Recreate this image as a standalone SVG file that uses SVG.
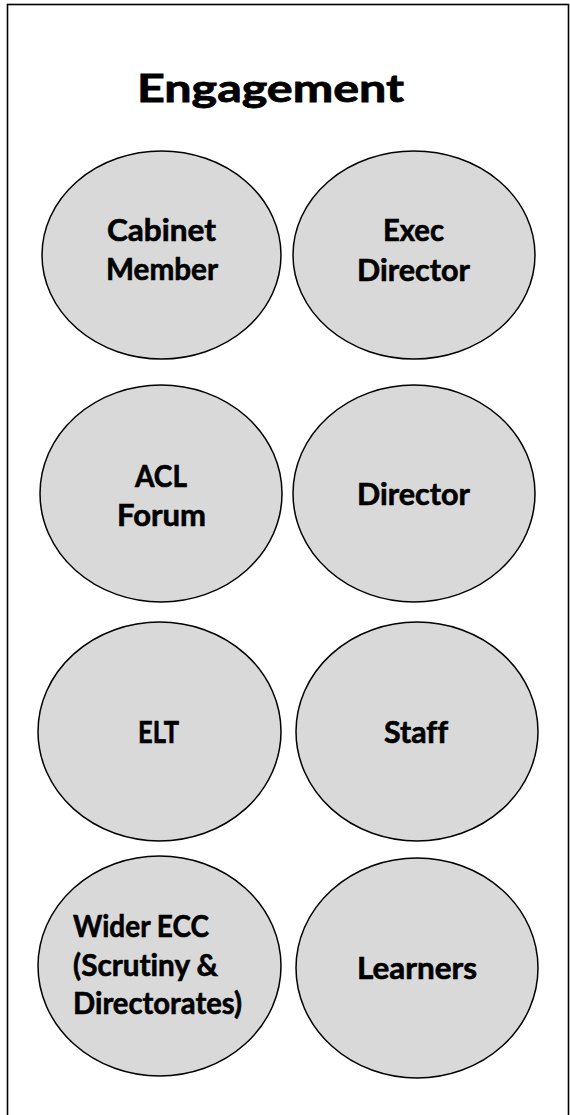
<svg xmlns="http://www.w3.org/2000/svg" width="570" height="1115" viewBox="0 0 570 1115">
<style>
.frame{fill:#ffffff;stroke:#000000;stroke-width:1.6}
.node ellipse{fill:#d9d9d9;stroke:#000000;stroke-width:1.5}
text{font-family:Lato,"Liberation Sans",sans-serif;font-weight:bold;fill:#000000;stroke:#000000;stroke-width:0.6;font-variant-ligatures:none}
.lbl{font-size:30px}
.title{font-size:39px;stroke-width:0.8}
</style>
<rect width="570" height="1115" fill="#ffffff"/>
<rect class="frame" x="7.5" y="4.5" width="561" height="1200"/>
<text class="title" x="137" y="102" textLength="267" lengthAdjust="spacingAndGlyphs">Engagement</text>
<g id="connectors"></g>
<g id="cabinet-member" class="node">
<ellipse cx="161.5" cy="255" rx="119.5" ry="104"/>
<text class="lbl" x="107" y="241" textLength="109" lengthAdjust="spacingAndGlyphs">Cabinet</text>
<text class="lbl" x="106" y="280" textLength="112" lengthAdjust="spacingAndGlyphs">Member</text>
</g>
<g id="exec-director" class="node">
<ellipse cx="414" cy="255" rx="121" ry="104"/>
<text class="lbl" x="383" y="241" textLength="61" lengthAdjust="spacingAndGlyphs">Exec</text>
<text class="lbl" x="357" y="281" textLength="113" lengthAdjust="spacingAndGlyphs">Director</text>
</g>
<g id="acl-forum" class="node">
<ellipse cx="161" cy="493.5" rx="121" ry="108.5"/>
<text class="lbl" x="135" y="487" textLength="52" lengthAdjust="spacingAndGlyphs">ACL</text>
<text class="lbl" x="117" y="526" textLength="89" lengthAdjust="spacingAndGlyphs">Forum</text>
</g>
<g id="director" class="node">
<ellipse cx="414" cy="493.5" rx="121" ry="108.5"/>
<text class="lbl" x="357" y="505" textLength="113" lengthAdjust="spacingAndGlyphs">Director</text>
</g>
<g id="elt" class="node">
<ellipse cx="159.5" cy="731.5" rx="121.5" ry="109.5"/>
<text class="lbl" x="138" y="743" textLength="41" lengthAdjust="spacingAndGlyphs">ELT</text>
</g>
<g id="staff" class="node">
<ellipse cx="417" cy="731.5" rx="121" ry="109.5"/>
<text class="lbl" x="384" y="743" textLength="64" lengthAdjust="spacingAndGlyphs">Staff</text>
</g>
<g id="wider-ecc" class="node">
<ellipse cx="159.5" cy="966" rx="121.5" ry="110"/>
<text class="lbl" x="73" y="937" textLength="136" lengthAdjust="spacingAndGlyphs">Wider ECC</text>
<text class="lbl" x="73" y="976" textLength="145" lengthAdjust="spacingAndGlyphs">(Scrutiny &amp;</text>
<text class="lbl" x="73" y="1014" textLength="169" lengthAdjust="spacingAndGlyphs">Directorates)</text>
</g>
<g id="learners" class="node">
<ellipse cx="417" cy="968" rx="121" ry="110"/>
<text class="lbl" x="357" y="979" textLength="120" lengthAdjust="spacingAndGlyphs">Learners</text>
</g>
</svg>
